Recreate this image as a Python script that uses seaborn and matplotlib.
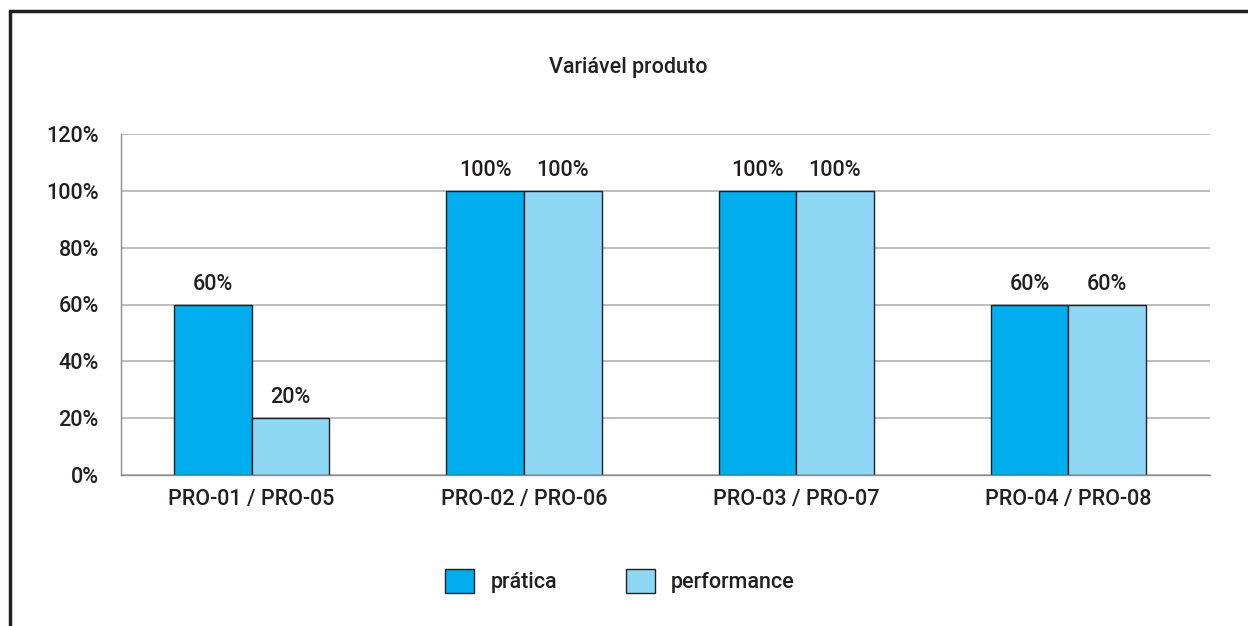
import matplotlib
matplotlib.use("Agg")
import matplotlib.pyplot as plt
from matplotlib.lines import Line2D
from matplotlib.patches import Patch
import seaborn as sns
import pandas as pd
import numpy as np

categories = ["PRO-01 / PRO-05", "PRO-02 / PRO-06", "PRO-03 / PRO-07", "PRO-04 / PRO-08"]
pratica = [60, 100, 100, 60]
performance = [20, 100, 100, 60]
series_names = ["prática", "performance"]
y_ticks = [0, 20, 40, 60, 80, 100, 120]
title = "Variável produto"

colors = ["#00AEEF", "#8ED8F6"]
ink = "#231F20"
fs = 15.5

sns.set_theme(style="white")
plt.rcParams["font.family"] = ["Roboto", "DejaVu Sans"]
plt.rcParams["font.weight"] = "medium"

df = pd.DataFrame({
    "categoria": categories * 2,
    "serie": [series_names[0]] * len(categories) + [series_names[1]] * len(categories),
    "valor": pratica + performance,
})

fig = plt.figure(figsize=(12.48, 6.26), dpi=100)
ax = fig.add_axes([121 / 1248, 1 - 475 / 626, (1210 - 121) / 1248, (475 - 134) / 626])

sns.barplot(data=df, x="categoria", y="valor", hue="serie", palette=colors,
            width=0.57, edgecolor=ink, linewidth=1.0, ax=ax, legend=False,
            saturation=1)

x0 = -0.48
ax.set_ylim(0, 120)
ax.set_xlim(x0, x0 + len(categories))
ax.set_yticks(y_ticks)
ax.set_yticklabels([f"{v}%" for v in y_ticks], fontsize=fs, color=ink)
ax.grid(axis="y", color="#B3B3B3", linewidth=1.2)
ax.set_axisbelow(True)
ax.set_xlabel("")
ax.set_ylabel("")

for side in ["top", "right"]:
    ax.spines[side].set_visible(False)
for side in ["left", "bottom"]:
    ax.spines[side].set_color("#8C8C8C")
    ax.spines[side].set_linewidth(1.0)

# category labels centred, tick marks on group boundaries
ax.set_xticks(range(len(categories)))
ax.set_xticklabels(categories, fontsize=fs, color=ink)
ax.tick_params(axis="x", length=0, pad=10)
ax.set_xticks(np.arange(x0, len(categories), 1.0), minor=True)
ax.tick_params(axis="x", which="minor", length=10, color="#8C8C8C", width=1.0, direction="out")
ax.tick_params(axis="y", length=10, color="#8C8C8C", width=1.0, direction="out", pad=6)

for cont in ax.containers:
    for bar in cont:
        h = bar.get_height()
        ax.annotate(f"{h:.0f}%", (bar.get_x() + bar.get_width() / 2, h),
                    xytext=(0, 7), textcoords="offset points",
                    ha="center", va="bottom", fontsize=fs, color=ink)

fig.text(628 / 1248, 1 - 68 / 626, title, ha="center", va="center", fontsize=fs, color=ink)

handles = [Patch(facecolor=c, edgecolor=ink, linewidth=1.0) for c in colors]
fig.legend(handles, series_names, loc="center", bbox_to_anchor=(620 / 1248, 1 - 581 / 626),
           ncol=2, frameon=False, fontsize=fs, handlelength=1.35, handleheight=1.35,
           columnspacing=3.2, handletextpad=0.75, labelcolor=ink)

# outer frame: top and left rules
fig.add_artist(Line2D([9.5 / 1248, 1.0], [1 - 10.5 / 626] * 2, color=ink, linewidth=2.5,
                      transform=fig.transFigure))
fig.add_artist(Line2D([9.5 / 1248] * 2, [0.0, 1 - 10.5 / 626], color=ink, linewidth=2.5,
                      transform=fig.transFigure))

fig.savefig("out.png", dpi=100)
